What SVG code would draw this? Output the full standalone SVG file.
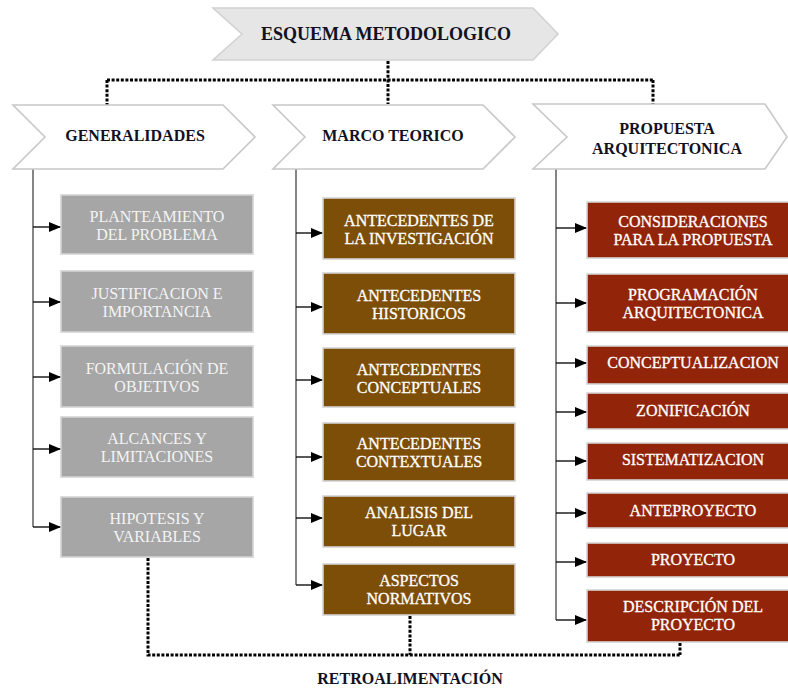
<svg xmlns="http://www.w3.org/2000/svg" width="788" height="688" viewBox="0 0 788 688">
  <defs>
    <marker id="tri" viewBox="0 0 12 10" refX="12" refY="5" markerWidth="12" markerHeight="10" markerUnits="userSpaceOnUse" orient="auto">
      <path d="M0,0 L12,5 L0,10 Z" fill="#000"/>
    </marker>
    <style>
      .chev { fill: #ffffff; stroke: #c8c8c8; stroke-width: 1.6; }
      .chev-top { fill: #e6e6e6; stroke: #d2d2d2; stroke-width: 1.6; }
      .hdr { font-family: "Liberation Serif", "Times New Roman", serif; font-weight: bold; font-size: 16px; fill: #111122; text-anchor: middle; }
      .title { font-size: 18px; }
      .box { stroke: #d4d4d4; stroke-width: 1.6; }
      .gray { fill: #a6a6a6; }
      .brown { fill: #7d4e07; }
      .red { fill: #922509; }
      .lbl { font-family: "Liberation Serif", "Times New Roman", serif; font-size: 16px; fill: #ffffff; text-anchor: middle; stroke: #ffffff; stroke-width: 0.3; }
      .lbl-gray { fill: #f4f4f4; stroke: none; }
      .trunk { fill: none; stroke: #444; stroke-width: 1.3; }
      .arrow { fill: none; stroke: #111; stroke-width: 1.4; marker-end: url(#tri); }
      .dots { fill: none; stroke: #000; stroke-width: 3; stroke-dasharray: 3 1.6; }
    </style>
  </defs>

  <rect width="788" height="688" fill="#ffffff"/>

  <!-- connectors -->
  <g id="connectors">
    <!-- dotted hierarchy from the main title -->
    <path class="dots" d="M388,61 V104"/>
    <path class="dots" d="M107,80 H653"/>
    <path class="dots" d="M107,80 V105"/>
    <path class="dots" d="M653,80 V104"/>
    <!-- dotted feedback loop -->
    <path class="dots" d="M148,558 V655 H680"/>
    <path class="dots" d="M410,616 V655"/>
    <path class="dots" d="M680,643 V655"/>

    <!-- column trunks -->
    <path class="trunk" d="M33,169 V527"/>
    <path class="trunk" d="M296,169 V585"/>
    <path class="trunk" d="M556,169 V620"/>

    <!-- branch arrows: generalidades -->
    <path class="arrow" d="M33,227 H61"/>
    <path class="arrow" d="M33,302 H61"/>
    <path class="arrow" d="M33,377 H61"/>
    <path class="arrow" d="M33,449 H61"/>
    <path class="arrow" d="M33,527 H61"/>
    <!-- branch arrows: marco teorico -->
    <path class="arrow" d="M296,233 H323"/>
    <path class="arrow" d="M296,307 H323"/>
    <path class="arrow" d="M296,380 H323"/>
    <path class="arrow" d="M296,457 H323"/>
    <path class="arrow" d="M296,518 H323"/>
    <path class="arrow" d="M296,585 H323"/>
    <!-- branch arrows: propuesta -->
    <path class="arrow" d="M556,228 H587"/>
    <path class="arrow" d="M556,303 H587"/>
    <path class="arrow" d="M556,363 H587"/>
    <path class="arrow" d="M556,412 H587"/>
    <path class="arrow" d="M556,461 H587"/>
    <path class="arrow" d="M556,513 H587"/>
    <path class="arrow" d="M556,562 H587"/>
    <path class="arrow" d="M556,620 H587"/>
  </g>

  <!-- title -->
  <g id="esquema">
    <polygon class="chev-top" points="213,8 533,8 558,34 533,60 213,60 242,34"/>
    <text class="hdr title" x="386" y="40">ESQUEMA METODOLOGICO</text>
  </g>

  <!-- column headers -->
  <g id="generalidades">
    <polygon class="chev" points="13,105 223,105 255,137 223,169 13,169 45,137"/>
    <text class="hdr" x="135" y="141">GENERALIDADES</text>
  </g>
  <g id="marco-teorico">
    <polygon class="chev" points="273,105 483,105 515,137 483,169 273,169 305,137"/>
    <text class="hdr" x="393" y="141">MARCO TEORICO</text>
  </g>
  <g id="propuesta">
    <polygon class="chev" points="533,104 765,104 787,137 765,169 533,169 567,137"/>
    <text class="hdr" x="667" y="134">PROPUESTA</text>
    <text class="hdr" x="667" y="154">ARQUITECTONICA</text>
  </g>

  <!-- generalidades items -->
  <g id="planteamiento">
    <rect class="box gray" x="61" y="195" width="192" height="59"/>
    <text class="lbl lbl-gray" x="157" y="222">PLANTEAMIENTO</text>
    <text class="lbl lbl-gray" x="157" y="240">DEL PROBLEMA</text>
  </g>
  <g id="justificacion">
    <rect class="box gray" x="61" y="271" width="192" height="61"/>
    <text class="lbl lbl-gray" x="157" y="299">JUSTIFICACION E</text>
    <text class="lbl lbl-gray" x="157" y="317">IMPORTANCIA</text>
  </g>
  <g id="objetivos">
    <rect class="box gray" x="61" y="346" width="192" height="61"/>
    <text class="lbl lbl-gray" x="157" y="374">FORMULACIÓN DE</text>
    <text class="lbl lbl-gray" x="157" y="392">OBJETIVOS</text>
  </g>
  <g id="alcances">
    <rect class="box gray" x="61" y="417" width="192" height="60"/>
    <text class="lbl lbl-gray" x="157" y="444">ALCANCES Y</text>
    <text class="lbl lbl-gray" x="157" y="462">LIMITACIONES</text>
  </g>
  <g id="hipotesis">
    <rect class="box gray" x="61" y="497" width="192" height="60"/>
    <text class="lbl lbl-gray" x="157" y="524">HIPOTESIS Y</text>
    <text class="lbl lbl-gray" x="157" y="542">VARIABLES</text>
  </g>

  <!-- marco teorico items -->
  <g id="ant-investigacion">
    <rect class="box brown" x="323" y="198" width="192" height="61"/>
    <text class="lbl" x="419" y="226">ANTECEDENTES DE</text>
    <text class="lbl" x="419" y="244">LA INVESTIGACIÓN</text>
  </g>
  <g id="ant-historicos">
    <rect class="box brown" x="323" y="273" width="192" height="61"/>
    <text class="lbl" x="419" y="301">ANTECEDENTES</text>
    <text class="lbl" x="419" y="319">HISTORICOS</text>
  </g>
  <g id="ant-conceptuales">
    <rect class="box brown" x="323" y="348" width="192" height="59"/>
    <text class="lbl" x="419" y="375">ANTECEDENTES</text>
    <text class="lbl" x="419" y="393">CONCEPTUALES</text>
  </g>
  <g id="ant-contextuales">
    <rect class="box brown" x="323" y="423" width="192" height="58"/>
    <text class="lbl" x="419" y="449">ANTECEDENTES</text>
    <text class="lbl" x="419" y="467">CONTEXTUALES</text>
  </g>
  <g id="analisis-lugar">
    <rect class="box brown" x="323" y="496" width="192" height="51"/>
    <text class="lbl" x="419" y="518">ANALISIS DEL</text>
    <text class="lbl" x="419" y="536">LUGAR</text>
  </g>
  <g id="aspectos-normativos">
    <rect class="box brown" x="323" y="564" width="192" height="51"/>
    <text class="lbl" x="419" y="586">ASPECTOS</text>
    <text class="lbl" x="419" y="604">NORMATIVOS</text>
  </g>

  <!-- propuesta items (boxes run past the right page edge) -->
  <g id="consideraciones">
    <rect class="box red" x="587" y="202" width="212" height="56"/>
    <text class="lbl" x="693" y="227">CONSIDERACIONES</text>
    <text class="lbl" x="693" y="245">PARA LA PROPUESTA</text>
  </g>
  <g id="programacion">
    <rect class="box red" x="587" y="274" width="212" height="58"/>
    <text class="lbl" x="693" y="300">PROGRAMACIÓN</text>
    <text class="lbl" x="693" y="318">ARQUITECTONICA</text>
  </g>
  <g id="conceptualizacion">
    <rect class="box red" x="587" y="346" width="212" height="38"/>
    <text class="lbl" x="693" y="368">CONCEPTUALIZACION</text>
  </g>
  <g id="zonificacion">
    <rect class="box red" x="587" y="393" width="212" height="36"/>
    <text class="lbl" x="693" y="416">ZONIFICACIÓN</text>
  </g>
  <g id="sistematizacion">
    <rect class="box red" x="587" y="443" width="212" height="37"/>
    <text class="lbl" x="693" y="465">SISTEMATIZACION</text>
  </g>
  <g id="anteproyecto">
    <rect class="box red" x="587" y="493" width="212" height="35"/>
    <text class="lbl" x="693" y="516">ANTEPROYECTO</text>
  </g>
  <g id="proyecto">
    <rect class="box red" x="587" y="543" width="212" height="34"/>
    <text class="lbl" x="693" y="565">PROYECTO</text>
  </g>
  <g id="descripcion">
    <rect class="box red" x="587" y="590" width="212" height="52"/>
    <text class="lbl" x="693" y="612">DESCRIPCIÓN DEL</text>
    <text class="lbl" x="693" y="630">PROYECTO</text>
  </g>

  <!-- feedback caption -->
  <g id="retroalimentacion">
    <text class="hdr" x="410" y="684">RETROALIMENTACIÓN</text>
  </g>
</svg>
